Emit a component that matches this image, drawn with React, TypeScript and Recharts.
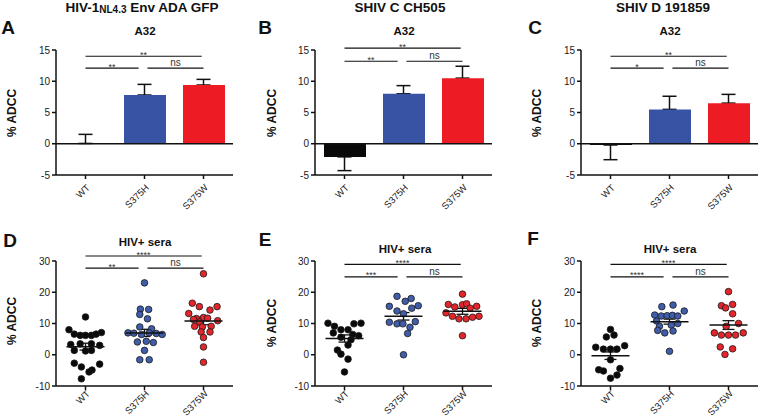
import {
  ComposedChart, ScatterChart, Bar, Line, Scatter, Cell, ErrorBar,
  XAxis, YAxis, ReferenceLine,
} from 'recharts'

const font = '"Liberation Sans", Arial, sans-serif'
const groups = ['WT', 'S375H', 'S375W']

// A32 bar panels (mean, one-sided SEM as [below, above])
const aMean = [0.05, 7.8, 9.4]
const aErr = [[0, 1.45], [0, 1.7], [0, 0.9]]
const bMean = [-2.1, 8.0, 10.5]
const bErr = [[2.2, 0], [0, 1.3], [0, 1.9]]
const cMean = [-0.2, 5.5, 6.5]
const cErr = [[2.35, 0], [0, 2.1], [0, 1.4]]

// HIV+ sera, panel D
const dWtY = [12.1, 8.0, 6.6, 6.2, 6.2, 6.2, 6.6, 7.1, 3.3, 3.5, 3.5, 3.0, 1.4, 1.2, 1.4, -2.7, -3.0, -3.9, -4.9, -5.5, -7.7]
const dWtJ = [0, -0.28, -0.19, -0.09, 0, 0.1, 0.18, 0.27, -0.25, -0.09, 0.1, 0.24, -0.19, 0, 0.1, -0.19, 0.24, -0.07, 0.11, 0.06, -0.07]
const dHY = [23.0, 14.6, 14.5, 12.9, 11.5, 8.9, 8.3, 7.0, 6.9, 6.5, 7.0, 6.8, 6.5, 4.1, 4.3, 3.9, 1.4, -1.6, -1.6]
const dHJ = [0, -0.07, 0.07, -0.08, 0.05, -0.08, 0.12, -0.28, -0.18, -0.05, 0.08, 0.2, 0.3, -0.12, 0.03, 0.15, 0, -0.08, 0.08]
const dWY = [25.9, 16.5, 15.4, 14.3, 15.4, 13.2, 11.6, 11.9, 11.7, 10.5, 11.3, 10.9, 9.1, 8.9, 9.1, 7.3, 7.3, 5.5, 2.5, -2.4]
const dWJ = [0, -0.19, -0.07, 0.11, 0.23, -0.25, -0.12, 0, 0.07, -0.07, -0.17, 0.24, -0.15, -0.02, 0.13, -0.04, 0.11, 0, 0, 0]
const dMean = [2.6, 7.0, 10.8]
const dSem = [1.1, 1.15, 1.2]

// panel E
const eWtY = [10.1, 9.1, 8.0, 8.0, 9.9, 10.1, 7.0, 6.5, 6.1, 5.6, 4.8, 3.1, 1.5, 0.2, -1.4, -5.5]
const eWtJ = [-0.28, -0.17, -0.06, 0.06, 0.16, 0.28, -0.19, 0.14, 0.24, -0.06, 0.11, 0.06, -0.12, -0.06, 0.06, 0]
const eHY = [18.7, 17.1, 18.0, 15.5, 14.0, 14.9, 15.7, 13.1, 10.4, 9.9, 9.9, 10.6, 8.8, 6.8, 0.0]
const eHJ = [-0.11, 0.03, 0.13, -0.24, -0.11, 0.14, 0.25, 0.0, -0.24, -0.11, -0.01, 0.2, 0.11, 0.07, 0.0]
const eWY = [19.4, 16.1, 15.3, 16.0, 16.3, 14.9, 15.5, 13.4, 12.3, 11.5, 11.5, 12.0, 12.3, 6.1]
const eWJ = [0, -0.24, -0.13, 0, 0.07, 0.13, 0.24, -0.28, -0.17, -0.06, 0.06, 0.17, 0.28, 0]
const eMean = [5.2, 12.3, 13.9]
const eSem = [1.15, 1.2, 0.95]

// panel F
const fWtY = [8.1, 5.7, 6.3, 2.4, 1.8, 1.8, 1.8, 2.9, -1.6, -4.8, -5.2, -4.4, -6.5, -7.5]
const fWtJ = [0, -0.07, 0.06, -0.25, -0.12, 0, 0.11, 0.24, 0, -0.2, -0.12, 0.16, 0.11, 0]
const fHY = [15.4, 15.9, 12.7, 12.4, 12.5, 12.6, 12.4, 14.0, 10.8, 9.1, 9.5, 10.0, 7.8, 7.0, 7.6, 1.1]
const fHJ = [-0.13, 0.06, -0.25, -0.14, -0.04, 0.05, 0.14, 0.25, -0.22, -0.17, 0.03, 0.14, -0.2, -0.08, 0.06, 0]
const fWY = [20.2, 15.7, 15.0, 16.1, 13.1, 9.1, 10.0, 7.0, 6.3, 6.3, 6.3, 7.0, 2.5, 1.9, 0.1]
const fWJ = [0, -0.12, -0.05, 0.07, 0.07, -0.04, 0.17, -0.24, -0.12, 0, 0.12, 0.25, -0.14, 0.07, -0.06]
const fMean = [-0.3, 10.6, 9.5]
const fSem = [1.2, 0.8, 1.4]

// significance brackets: y of [WT–S375W, WT–S375H / S375H–S375W]
const sigA = [14.0, 12.1]
const sigB = [15.3, 13.2]
const sigC = [14.0, 12.1]
const sigD = [31.6, 27.7]
const sigE = [28.9, 24.9]
const sigF = [28.9, 24.9]
const starsA = ['**', '**', 'ns']
const starsB = ['**', '**', 'ns']
const starsC = ['**', '*', 'ns']
const starsD = ['****', '**', 'ns']
const starsE = ['****', '***', 'ns']
const starsF = ['****', '****', 'ns']

const barColors = ['#0a0a0a', '#3953a4', '#ed1c24']
const dotColors = ['#0a0a0a', '#3f5da8', '#e2262c']

const axisStyle = { stroke: '#111', strokeWidth: 1.5 }
const yTick = { fontSize: 10, fill: '#1a1a1a', fontFamily: font }

// rotated category labels; lift moves them up a little
const XTick = ({ x, y, payload, lift = 0 }: any) => (
  <g transform={`translate(${x},${y - lift})`}>
    <text x={0} y={0} dx={-2.3} dy={9.4} transform="rotate(-45)" textAnchor="end"
      fontSize={9.5} fill="#1a1a1a" fontFamily={font}>{groups[payload.value]}</text>
  </g>
)

function sigLines(levels: number[], labels: string[]) {
  const segs = [
    { x1: 0, x2: 1.97, y: levels[0], t: labels[0] },
    { x1: 0, x2: 0.9, y: levels[1], t: labels[1] },
    { x1: 1.05, x2: 2.0, y: levels[1], t: labels[2] },
  ]
  return segs.map((s, i) => (
    <ReferenceLine key={i} ifOverflow="visible" stroke="#111" strokeWidth={1.2}
      segment={[{ x: s.x1, y: s.y }, { x: s.x2, y: s.y }]}
      label={{ value: s.t, position: 'top', offset: s.t === 'ns' ? 2 : -1.5, fontSize: s.t === 'ns' ? 10 : 9, fill: '#333', fontFamily: font }} />
  ))
}

function BarPanel({ left, mean, err, sig, stars }: any) {
  const data = groups.map((g, i) => ({ x: i, mean: mean[i], err: err[i] }))
  return (
    <div style={{ position: 'absolute', left, top: 0, width: 236, height: 222 }}>
      {/* whiskers underneath, so the bars hide the inner cap */}
      <div style={{ position: 'absolute', left: 0, top: 0 }}>
        <ComposedChart width={236} height={222} data={data} margin={{ top: 50, right: 3, bottom: 47, left: 56 }}>
          <XAxis type="number" dataKey="x" domain={[-0.5, 2.5]} hide />
          <YAxis domain={[-5, 15]} hide />
          <Line dataKey="mean" stroke="none" dot={false} isAnimationActive={false}>
            <ErrorBar dataKey="err" direction="y" width={7} stroke="#111" strokeWidth={1.5} />
          </Line>
        </ComposedChart>
      </div>
      <div style={{ position: 'absolute', left: 0, top: 0 }}>
        <ComposedChart width={236} height={222} data={data} margin={{ top: 50, right: 3, bottom: 0, left: 26 }}>
          <XAxis type="number" dataKey="x" domain={[-0.5, 2.5]} ticks={[0, 1, 2]} height={47} tickSize={4}
            axisLine={axisStyle} tickLine={axisStyle} tick={<XTick lift={1} />} />
          <YAxis domain={[-5, 15]} ticks={[-5, 0, 5, 10, 15]} width={30} tickSize={4}
            axisLine={axisStyle} tickLine={axisStyle} tick={yTick} />
          <Bar dataKey="mean" barSize={42} isAnimationActive={false}>
            {data.map((d, i) => <Cell key={d.x} fill={barColors[i]} />)}
          </Bar>
          <ReferenceLine y={0} stroke="#111" strokeWidth={1.5} />
          {sigLines(sig, stars)}
        </ComposedChart>
      </div>
    </div>
  )
}

const dot = (fill: string) => (p: any) => (
  <circle cx={p.cx} cy={p.cy} r={3.3} fill={fill} stroke="#1a1a1a" strokeWidth={0.8} />
)
const meanMark = (p: any) => (
  <line x1={p.cx - 19} x2={p.cx + 19} y1={p.cy} y2={p.cy} stroke="#111" strokeWidth={1.5} />
)

function DotPanel({ left, ys, js, mean, sem, sig, stars }: any) {
  const series = ys.map((yy: number[], g: number) => yy.map((v, i) => ({ x: g + js[g][i], y: v })))
  const means = groups.map((_, g) => ({ x: g, y: mean[g], err: sem[g] }))
  return (
    <div style={{ position: 'absolute', left, top: 211 }}>
      <ScatterChart width={236} height={207} margin={{ top: 50, right: 3, bottom: 0, left: 26 }}>
        <XAxis type="number" dataKey="x" domain={[-0.5, 2.5]} ticks={[0, 1, 2]} height={32} tickSize={4}
          axisLine={axisStyle} tickLine={axisStyle} tick={<XTick lift={6} />} />
        <YAxis type="number" dataKey="y" domain={[-10, 30]} ticks={[-10, 0, 10, 20, 30]} width={30} tickSize={4}
          axisLine={axisStyle} tickLine={axisStyle} tick={yTick} />
        {series.map((s: any, g: number) => (
          <Scatter key={g} data={s} shape={dot(dotColors[g])} isAnimationActive={false} />
        ))}
        <Scatter data={means} shape={meanMark} isAnimationActive={false}>
          <ErrorBar dataKey="err" direction="y" width={6} stroke="#111" strokeWidth={1.3} />
        </Scatter>
        {sigLines(sig, stars)}
      </ScatterChart>
    </div>
  )
}

function Txt({ x, y, size, children, rotate }: any) {
  return (
    <div style={{
      position: 'absolute', left: x, top: y, transform: `translate(-50%,-50%)${rotate ? ' rotate(-90deg)' : ''}`,
      fontSize: size, fontWeight: 'bold', whiteSpace: 'nowrap', lineHeight: 1, color: '#111',
    }}>{children}</div>
  )
}

export default function App() {
  return (
    <div style={{ position: 'absolute', left: 0, top: 0, width: 760, height: 418, background: '#fff', fontFamily: font, overflow: 'hidden' }}>
      <Txt x={142} y={8} size={13.5}>HIV-1<span style={{ fontSize: 10, verticalAlign: -1 }}>NL4.3</span> Env ADA GFP</Txt>
      <Txt x={400} y={8} size={13.5}>SHIV C CH505</Txt>
      <Txt x={663} y={8} size={13.5}>SHIV D 191859</Txt>

      <Txt x={8} y={27} size={19}>A</Txt>
      <Txt x={265} y={27} size={19}>B</Txt>
      <Txt x={535} y={27} size={19}>C</Txt>
      <Txt x={10} y={240} size={19}>D</Txt>
      <Txt x={265} y={239} size={19}>E</Txt>
      <Txt x={533} y={238} size={19}>F</Txt>

      <Txt x={145} y={32} size={11.5}>A32</Txt>
      <Txt x={404} y={32} size={11.5}>A32</Txt>
      <Txt x={670} y={32} size={11.5}>A32</Txt>
      <Txt x={145} y={243} size={11.5}>HIV+ sera</Txt>
      <Txt x={405} y={250} size={11.5}>HIV+ sera</Txt>
      <Txt x={670} y={250} size={11.5}>HIV+ sera</Txt>

      <Txt x={12} y={113} size={12} rotate>% ADCC</Txt>
      <Txt x={272} y={113} size={12} rotate>% ADCC</Txt>
      <Txt x={537} y={113} size={12} rotate>% ADCC</Txt>
      <Txt x={12} y={321} size={12} rotate>% ADCC</Txt>
      <Txt x={272} y={323} size={12} rotate>% ADCC</Txt>
      <Txt x={537} y={323} size={12} rotate>% ADCC</Txt>

      <DotPanel left={0} ys={[dWtY, dHY, dWY]} js={[dWtJ, dHJ, dWJ]} mean={dMean} sem={dSem} sig={sigD} stars={starsD} />
      <DotPanel left={259} ys={[eWtY, eHY, eWY]} js={[eWtJ, eHJ, eWJ]} mean={eMean} sem={eSem} sig={sigE} stars={starsE} />
      <DotPanel left={525} ys={[fWtY, fHY, fWY]} js={[fWtJ, fHJ, fWJ]} mean={fMean} sem={fSem} sig={sigF} stars={starsF} />

      <BarPanel left={0} mean={aMean} err={aErr} sig={sigA} stars={starsA} />
      <BarPanel left={259} mean={bMean} err={bErr} sig={sigB} stars={starsB} />
      <BarPanel left={525} mean={cMean} err={cErr} sig={sigC} stars={starsC} />
    </div>
  )
}
